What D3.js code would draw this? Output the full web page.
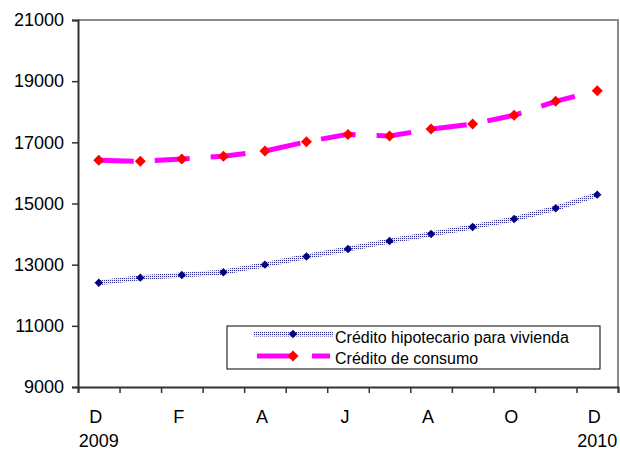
<!DOCTYPE html>
<html>
<head>
<meta charset="utf-8">
<script src="https://cdn.jsdelivr.net/npm/d3@7"></script>
<style>
  html, body { margin: 0; padding: 0; background: #fff; }
  svg { display: block; font-family: "Liberation Sans", Arial, sans-serif; }
</style>
</head>
<body>
<svg id="chart" width="620" height="450"></svg>
<script>
// ---- data ----
const categories = ["D", "E", "F", "M", "A", "M", "J", "J", "A", "S", "O", "N", "D"];
const tickLabels = ["D", "", "F", "", "A", "", "J", "", "A", "", "O", "", "D"];
const yearLabels = ["2009", "", "", "", "", "", "", "", "", "", "", "", "2010"];
const hipotecario = [12410, 12575, 12660, 12750, 13000, 13265, 13510, 13775, 14005, 14230, 14495, 14845, 15290];
const consumo = [16415, 16380, 16455, 16545, 16715, 17020, 17260, 17205, 17435, 17600, 17885, 18340, 18690];
const yTicks = [9000, 11000, 13000, 15000, 17000, 19000, 21000];
const seriesNames = ["Crédito hipotecario para vivienda", "Crédito de consumo"];

// ---- layout ----
const mLeft = 78, mRight = 618, mTop = 20, mBottom = 387;
const svg = d3.select("#chart");

const defs = svg.append("defs");
const pat = defs.append("pattern").attr("id", "hatch")
  .attr("patternUnits", "userSpaceOnUse").attr("width", 2).attr("height", 2);
pat.append("rect").attr("width", 2).attr("height", 2).attr("fill", "#ececf8");
pat.append("rect").attr("width", 1).attr("height", 1).attr("fill", "#2a2a90");

const x = d3.scaleLinear().domain([0, categories.length]).range([mLeft, mRight]);
const y = d3.scaleLinear().domain([9000, 21000]).range([mBottom, mTop]);
const cx = i => x(i + 0.5);

// plot border (top & right)
svg.append("path")
  .attr("d", `M${mLeft},${mTop}H${mRight}V${mBottom}`)
  .attr("fill", "none").attr("stroke", "#8c8c8c").attr("stroke-width", 2);

// y axis
const yAxis = svg.append("g").attr("transform", `translate(${mLeft},0)`)
  .call(d3.axisLeft(y).tickValues(yTicks).tickSize(6).tickPadding(8).tickFormat(d3.format("d")));
yAxis.select(".domain").attr("stroke", "#333").attr("stroke-width", 2);
yAxis.selectAll(".tick line").attr("stroke", "#333").attr("stroke-width", 1.5);
yAxis.selectAll("text").attr("font-size", 18).attr("fill", "#000")
  .attr("font-family", "'Liberation Sans', Arial, sans-serif");

// x axis (ticks at category boundaries)
const xAxis = svg.append("g").attr("transform", `translate(0,${mBottom})`)
  .call(d3.axisBottom(x).tickValues(d3.range(categories.length + 1)).tickSize(6).tickFormat(""));
xAxis.select(".domain").attr("stroke", "#333").attr("stroke-width", 2);
xAxis.selectAll(".tick line").attr("stroke", "#333").attr("stroke-width", 1.5);

// x labels
svg.append("g").selectAll("text").data(tickLabels).join("text")
  .attr("x", (d, i) => cx(i) - 3).attr("y", 423)
  .attr("text-anchor", "middle").attr("font-size", 18).attr("fill", "#000")
  .text(d => d);
svg.append("g").selectAll("text").data(yearLabels).join("text")
  .attr("x", (d, i) => cx(i)).attr("y", 447)
  .attr("text-anchor", "middle").attr("font-size", 18).attr("fill", "#000")
  .text(d => d);

const line = d3.line().x((d, i) => cx(i)).y(d => y(d));
const diamond = (r) => `M0,${-r}L${r},0L0,${r}L${-r},0Z`;

// mortgage series
svg.append("path").datum(hipotecario).attr("d", line)
  .attr("fill", "none").attr("stroke", "url(#hatch)").attr("stroke-width", 5);
svg.append("g").selectAll("path").data(hipotecario).join("path")
  .attr("transform", (d, i) => `translate(${cx(i)},${y(d)})`)
  .attr("d", diamond(4.2)).attr("fill", "#000080");

// consumer series
svg.append("path").datum(consumo).attr("d", line)
  .attr("fill", "none").attr("stroke", "#ff00ff").attr("stroke-width", 5)
  .attr("stroke-dasharray", "35,21");
svg.append("g").selectAll("path").data(consumo).join("path")
  .attr("transform", (d, i) => `translate(${cx(i)},${y(d)})`)
  .attr("d", diamond(5.5)).attr("fill", "#ff0000");

// legend
const lg = svg.append("g");
lg.append("rect").attr("x", 227).attr("y", 326).attr("width", 373).attr("height", 43)
  .attr("fill", "#fff").attr("stroke", "#000").attr("stroke-width", 1);
lg.append("line").attr("x1", 253).attr("x2", 333).attr("y1", 334).attr("y2", 334)
  .attr("stroke", "url(#hatch)").attr("stroke-width", 5);
lg.append("path").attr("transform", "translate(293,334)").attr("d", diamond(4.2)).attr("fill", "#000080");
lg.append("line").attr("x1", 257).attr("x2", 330).attr("y1", 356).attr("y2", 356)
  .attr("stroke", "#ff00ff").attr("stroke-width", 5).attr("stroke-dasharray", "35,20");
lg.append("path").attr("transform", "translate(293,356)").attr("d", diamond(5.5)).attr("fill", "#ff0000");
lg.selectAll("text").data(seriesNames).join("text")
  .attr("x", 335).attr("y", (d, i) => i === 0 ? 342.5 : 363.5)
  .attr("font-size", 16).attr("fill", "#000").text(d => d);
</script>
</body>
</html>
